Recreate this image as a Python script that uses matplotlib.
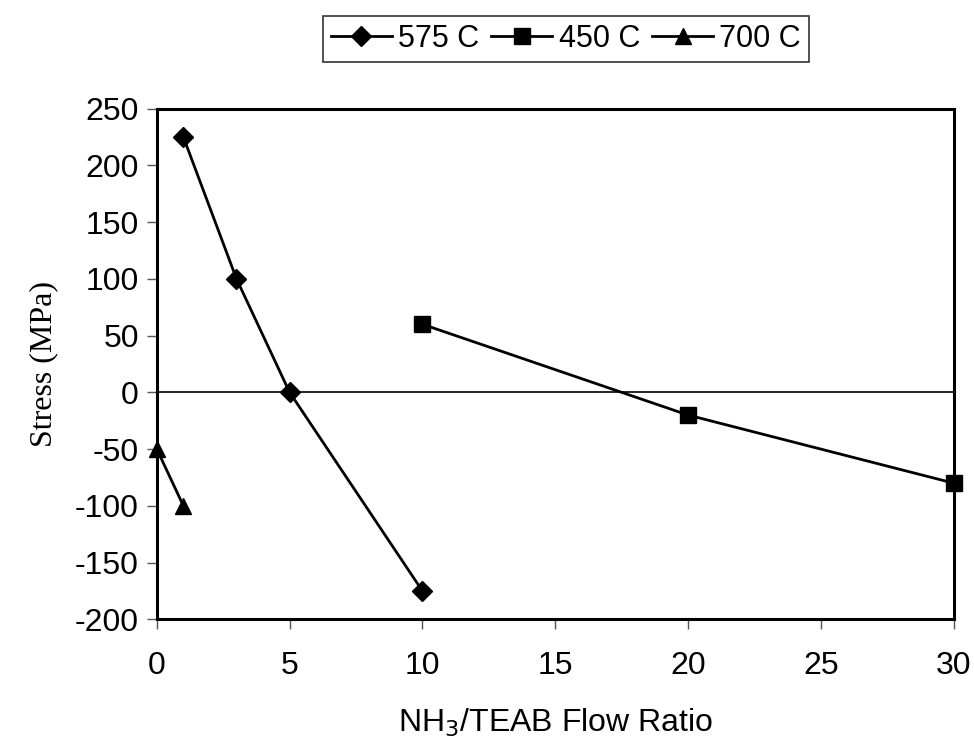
import matplotlib
matplotlib.use("Agg")
import matplotlib.pyplot as plt

plt.rcParams["font.family"] = ["Liberation Sans", "DejaVu Sans"]

# data
x_575 = [1, 3, 5, 10]
y_575 = [225, 100, 0, -175]
x_450 = [10, 20, 30]
y_450 = [60, -20, -80]
x_700 = [0, 1]
y_700 = [-50, -100]

series_labels = ["575 C", "450 C", "700 C"]
x_ticks = [0, 5, 10, 15, 20, 25, 30]
y_ticks = [-200, -150, -100, -50, 0, 50, 100, 150, 200, 250]
y_tick_labels = ["-200", "-150", "-100", "-50", "0", "50", "100", "150", "200", "250"]

fig = plt.figure(figsize=(9.74, 7.39), dpi=100)
ax = fig.add_axes([0.161, 0.162, 0.818, 0.691])

lw = 2.0
ax.plot(x_575, y_575, color="black", linewidth=lw, marker="D", markersize=10,
        label=series_labels[0], clip_on=False, zorder=3)
ax.plot(x_450, y_450, color="black", linewidth=lw, marker="s", markersize=11,
        label=series_labels[1], clip_on=False, zorder=3)
ax.plot(x_700, y_700, color="black", linewidth=lw, marker="^", markersize=12,
        label=series_labels[2], clip_on=False, zorder=3)

ax.axhline(0, color="black", linewidth=1.2, zorder=1)

ax.set_xlim(0, 30)
ax.set_ylim(-200, 250)
ax.set_xticks(x_ticks)
ax.set_yticks(y_ticks)
ax.set_yticklabels(y_tick_labels)
ax.tick_params(axis="both", direction="out", length=7, width=1, labelsize=23, color="#555555")
ax.tick_params(axis="x", pad=16)
ax.tick_params(axis="y", pad=6)

for sp in ax.spines.values():
    sp.set_linewidth(2.2)

ax.set_ylabel("Stress (MPa)", family=["Liberation Serif", "DejaVu Serif"], fontsize=23, labelpad=12)
ax.set_xlabel("NH$_3$/TEAB Flow Ratio", fontsize=23, labelpad=18)

leg = fig.legend(loc="upper center", bbox_to_anchor=(0.581, 0.978), ncol=3, fontsize=22,
                 frameon=True, fancybox=False, edgecolor="black", handlelength=2.0,
                 handletextpad=0.2, columnspacing=0.4, borderpad=0.25, borderaxespad=0)
leg.get_frame().set_linewidth(1.2)

fig.savefig("out.png", dpi=100)
